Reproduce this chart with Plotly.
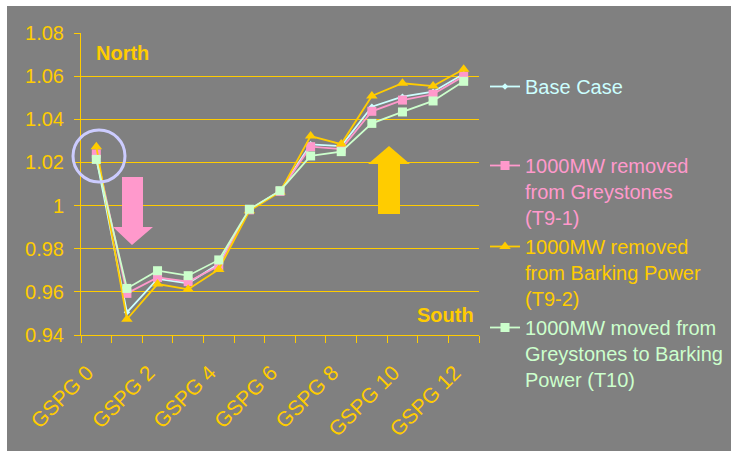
import plotly.graph_objects as go

categories = ["GSPG 0", "GSPG 1", "GSPG 2", "GSPG 3", "GSPG 4", "GSPG 5", "GSPG 6",
              "GSPG 7", "GSPG 8", "GSPG 9", "GSPG 10", "GSPG 11", "GSPG 12"]
base_case = [1.022, 0.9505, 0.966, 0.964, 0.973, 0.998, 1.0068, 1.0284, 1.0276, 1.0458, 1.0505, 1.0528, 1.061]
t9_1 = [1.024, 0.9593, 0.9667, 0.9647, 0.9721, 0.998, 1.0066, 1.0273, 1.0262, 1.0437, 1.0489, 1.0516, 1.060]
t9_2 = [1.0273, 0.9473, 0.9636, 0.9612, 0.9704, 0.9976, 1.0063, 1.0322, 1.0285, 1.0508, 1.0567, 1.0554, 1.0632]
t10 = [1.0214, 0.9616, 0.9698, 0.9675, 0.9748, 0.9983, 1.0069, 1.023, 1.025, 1.0381, 1.0434, 1.0485, 1.0576]

names = [
    "<span style='color:#CCFFFF'>Base Case</span>",
    "<span style='color:#FF99CC'>1000MW removed<br>from Greystones<br>(T9-1)</span>",
    "<span style='color:#FFCC00'>1000MW removed<br>from Barking Power<br>(T9-2)</span>",
    "<span style='color:#CCFFCC'>1000MW moved from<br>Greystones to Barking<br>Power (T10)</span>",
]
colors = ["#CCFFFF", "#FF99CC", "#FFCC00", "#CCFFCC"]
symbols = ["diamond", "square", "triangle-up", "square"]
msizes = [5, 9, 10, 9]
series = [base_case, t9_1, t9_2, t10]
legends = ["legend", "legend2", "legend2", "legend2"]

W, H = 731, 451
L, R, T, B = 81, 479, 33, 335
pw, ph = R - L, B - T

def px(x):
    return (x - L) / pw

def py(y):
    return (B - y) / ph

x = list(range(len(categories)))
fig = go.Figure()
for s, n, c, sym, ms, lg in zip(series, names, colors, symbols, msizes, legends):
    fig.add_trace(go.Scatter(x=x, y=s, name=n, mode="lines+markers",
                             line=dict(color=c, width=1.8),
                             marker=dict(symbol=sym, size=ms, color=c, line=dict(width=0)),
                             legend=lg))

font = "Liberation Sans, Arial, sans-serif"
gold = "#FFCC00"

shapes = [
    dict(type="rect", xref="paper", yref="paper", x0=px(7), x1=px(W + 5), y0=py(6), y1=py(H + 5),
         fillcolor="#808080", line=dict(width=0), layer="below"),
    dict(type="circle", xref="paper", yref="paper", x0=px(73), x1=px(125), y0=py(182), y1=py(130),
         line=dict(color="#CCCCFF", width=3)),
]
pink_arrow = [(122, 177), (143, 177), (143, 227), (153, 227), (132, 245), (113, 227), (122, 227)]
gold_arrow = [(389, 146), (410, 164), (400, 164), (400, 214), (378, 214), (378, 164), (368, 164)]
for pts, col in [(pink_arrow, "#FF99CC"), (gold_arrow, "#FFCC00")]:
    path = "M " + " L ".join(f"{px(a):.5f},{py(b):.5f}" for a, b in pts) + " Z"
    shapes.append(dict(type="path", xref="paper", yref="paper", path=path,
                       fillcolor=col, line=dict(width=0)))

fig.update_layout(
    width=W, height=H,
    margin=dict(l=L, r=W - R, t=T, b=H - B, autoexpand=False),
    paper_bgcolor="white", plot_bgcolor="rgba(0,0,0,0)",
    font=dict(family=font, size=20, color=gold),
    showlegend=True,
    shapes=shapes,
    xaxis=dict(range=[-0.5, len(categories) - 0.5], tickmode="array",
               tickvals=x[::2], ticktext=categories[::2], tickangle=-45,
               ticks="", showgrid=False, showline=True, linecolor=gold, linewidth=1,
               tickfont=dict(size=21, color=gold), ticklabelstandoff=16, ticklabelshift=-9,
               minor=dict(tickmode="array", tickvals=[i - 0.5 for i in range(len(categories) + 1)],
                          ticks="outside", ticklen=7, tickcolor=gold, tickwidth=1, showgrid=False),
               zeroline=False, fixedrange=True),
    yaxis=dict(range=[0.94, 1.08], tickmode="linear", tick0=0.94, dtick=0.02,
               showgrid=True, gridcolor=gold, gridwidth=1, showline=True, linecolor=gold,
               ticks="outside", ticklen=6, tickcolor=gold, zeroline=False,
               tickfont=dict(size=20, color=gold), ticklabelstandoff=6),
    legend=dict(x=px(485), y=py(67), xanchor="left", yanchor="top", bgcolor="rgba(0,0,0,0)",
                font=dict(size=20, family=font), valign="top", itemwidth=30),
    legend2=dict(x=px(485), y=py(146), xanchor="left", yanchor="top", bgcolor="rgba(0,0,0,0)",
                 font=dict(size=20, family=font), valign="top", itemwidth=30, tracegroupgap=0),
    annotations=[
        dict(text="<b>North</b>", xref="paper", yref="paper", x=px(94), y=py(53), xanchor="left",
             yanchor="middle", showarrow=False, font=dict(size=20, color=gold)),
        dict(text="<b>South</b>", xref="paper", yref="paper", x=px(476), y=py(315), xanchor="right",
             yanchor="middle", showarrow=False, font=dict(size=20, color=gold)),
    ],
)

fig.write_html("out.html")
